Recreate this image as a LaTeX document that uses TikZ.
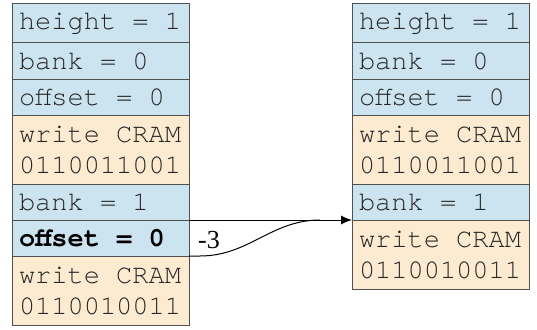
\documentclass[tikz,border=0pt]{standalone}
\usepackage{fontspec}
\setmainfont{Liberation Serif}
\setmonofont{texgyrecursor}[Extension=.otf, UprightFont=*-regular, BoldFont=*-bold, WordSpace={1,0,0}]
\usetikzlibrary{arrows.meta}
\usetikzlibrary{positioning}
\usetikzlibrary{calc}
\definecolor{regblue}{RGB}{204,228,240}
\definecolor{cmdtan}{RGB}{252,235,208}
\definecolor{cellline}{RGB}{80,80,80}
\tikzset{
	cell/.style={draw=cellline, line width=1pt, rectangle, outer sep=0pt,
		minimum width=177pt, text width=163pt, inner xsep=7pt, inner ysep=0pt,
		align=flush left, text=black!85, font=\ttfamily\fontsize{27}{31}\selectfont},
	reg/.style={cell, fill=regblue, minimum height=36pt},
	cmd/.style={cell, fill=cmdtan, minimum height=69pt}
}

\begin{document}
\begin{tikzpicture}[x=1pt, y=-1pt, line/.style={line width=1pt, -{Latex[length=11pt, width=9pt]}}]
	\useasboundingbox (0,0) rectangle (537,329);

	% --- before ---
	\node[reg, minimum height=39pt, anchor=north west] (l1) at (12,4) {height = 1};
	\node[reg, below=0pt of l1] (l2) {bank = 0};
	\node[reg, below=0pt of l2] (l3) {offset = 0};
	\node[cmd, below=0pt of l3] (l4) {write CRAM\\0110011001};
	\node[reg, below=0pt of l4] (l5) {bank = 1};
	\node[reg, below=0pt of l5, text=black] (l6) {\bfseries offset = 0};
	\node[cmd, below=0pt of l6] (l7) {write CRAM\\0110010011};

	% --- after ---
	\node[reg, minimum height=39pt, anchor=north west] (r1) at (352,4) {height = 1};
	\node[reg, below=0pt of r1] (r2) {bank = 0};
	\node[reg, below=0pt of r2] (r3) {offset = 0};
	\node[cmd, below=0pt of r3] (r4) {write CRAM\\0110011001};
	\node[reg, below=0pt of r4] (r5) {bank = 1};
	\node[cmd, below=0pt of r5] (r6) {write CRAM\\0110010011};

	% removed row folds into the next one
	\node[right=9pt of l6, yshift=-2pt, inner sep=0pt, font=\fontsize{26}{26}\selectfont] (shift) {-3};
	\coordinate (join) at ($(r6.north west)+(-32,0)$);
	\draw[line width=1pt] (l6.south east) -- ++(11,0) to[out=0, in=180] (join);
	\draw[line] (l6.north east) -- (r6.north west);

\end{tikzpicture}
\end{document}
